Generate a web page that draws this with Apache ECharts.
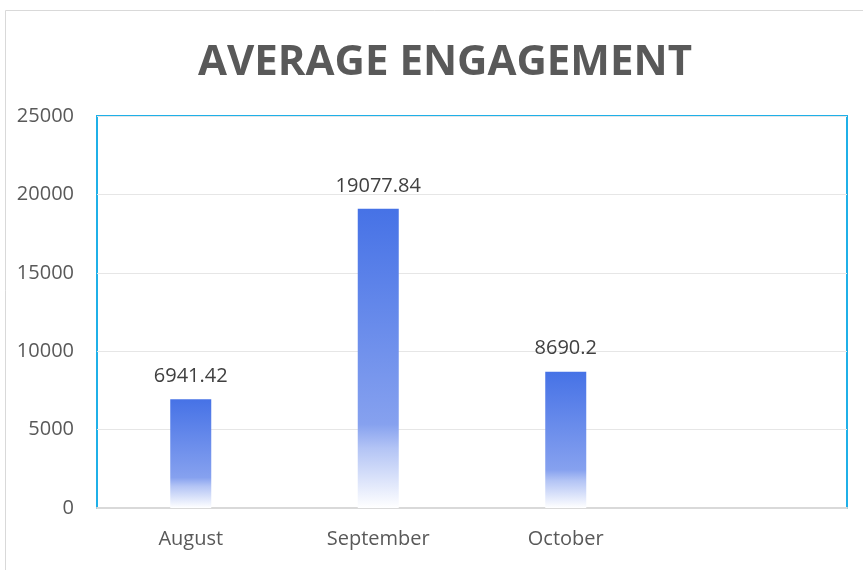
<!DOCTYPE html>
<html><head><meta charset="utf-8">
<script src="https://cdn.jsdelivr.net/npm/echarts@6/dist/echarts.min.js"></script>
<style>html,body{margin:0;padding:0;background:#fff}#c{width:863px;height:570px}</style>
</head><body><div id="c"></div>
<script>
const categories = ['August', 'September', 'October', ''];
const values = [6941.42, 19077.84, 8690.2, null];
const yTicks = [0, 5000, 10000, 15000, 20000, 25000];
const titleText = 'AVERAGE ENGAGEMENT';

const chart = echarts.init(document.getElementById('c'));
const grad = new echarts.graphic.LinearGradient(0, 0, 0, 1, [
  {offset: 0, color: '#4672e6'},
  {offset: 0.72, color: '#86a1ef'},
  {offset: 0.8, color: '#b3c4f5'},
  {offset: 1, color: '#ffffff'}
]);
chart.setOption({
  animation: false,
  backgroundColor: '#fff',
  title: {
    text: titleText, left: 440, top: 37, textAlign: 'center',
    textStyle: {fontFamily: 'Open Sans', fontWeight: 'bold', fontSize: 42, color: '#595959'}
  },
  graphic: [{type: 'rect', shape: {x: 5.5, y: 10.5, width: 900, height: 600},
    style: {fill: 'none', stroke: '#d9d9d9', lineWidth: 1}, z: -1}],
  grid: {left: 97, right: 16, top: 116, bottom: 62, show: true, borderColor: '#1fb0e8', borderWidth: 2, backgroundColor: 'transparent'},
  xAxis: {
    type: 'category', data: categories,
    axisLine: {lineStyle: {color: '#d9d9d9', width: 2}, z: 5},
    axisTick: {show: false},
    axisLabel: {color: '#595959', fontFamily: 'Open Sans', fontSize: 20, margin: 21}
  },
  yAxis: {
    type: 'value', min: yTicks[0], max: yTicks[yTicks.length - 1], interval: 5000,
    axisLine: {show: false}, axisTick: {show: false},
    axisLabel: {color: '#595959', fontFamily: 'Open Sans', fontSize: 20, margin: 23, formatter: v => String(v)},
    splitLine: {lineStyle: {color: '#e6e6e6', width: 1}}
  },
  series: [{
    type: 'bar', data: values, barWidth: 41,
    itemStyle: {color: grad},
    label: {show: true, position: 'top', distance: 13, color: '#404040', fontFamily: 'Open Sans', fontSize: 20}
  }]
});
</script></body></html>
